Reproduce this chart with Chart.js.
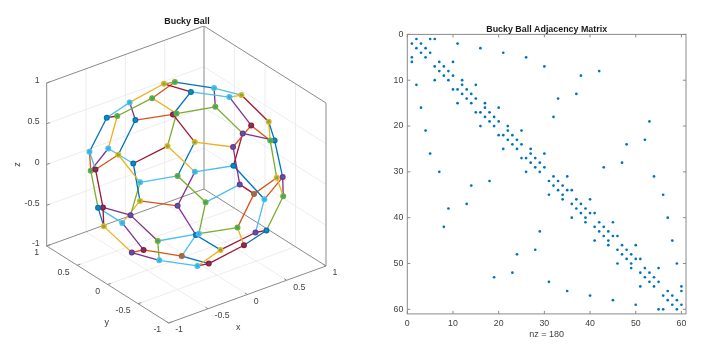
<!DOCTYPE html>
<html>
<head>
<meta charset="utf-8">
<title>Bucky Ball</title>
<script src="https://cdn.jsdelivr.net/npm/chart.js@4"></script>
<style>
    body { margin: 0; background: #fff; overflow: hidden; }
    canvas { position: absolute; top: 0; }
    #ball-chart { left: 0; }
    #spy-chart { left: 373px; }
</style>
</head>
<body>
<canvas id="ball-chart" width="374" height="361"></canvas>
<canvas id="spy-chart" width="347" height="361"></canvas>
<script>
// Data ===============================================
const ballTicks = [-1, -0.5, 0, 0.5, 1];

// Sommets de la balle
const ballX = [0.01, 0.11, 0.05, 0.36, 0.40, 0.70, 0.83, 0.68, 0.39, 0.22, 0.12, -0.28, -0.38, -0.56, -0.50, -0.57, -0.31, -0.28, -0.55, -0.32, 0.02, 0.57, -0.72, -0.83, -0.85, -0.83, -0.89, -0.93, -0.86, -0.60, -0.45, -0.06, -0.05, 0.10, 0.49, 0.62, 0.24, 0.65, -0.90, -0.67, -0.43, -0.99, -0.96, -0.95, -0.97, -0.84, -0.11, 0.15, 0.39, -0.53, -0.50, -0.79, -0.24, 0.05, -0.80, -0.74, -0.67, -0.57, -0.34, -0.25];
const ballY = [0.38, 0.33, -0.01, 0.01, -0.19, 0.00, -0.28, -0.57, -0.56, -0.64, -0.32, 0.20, 0.44, 0.41, 0.66, 0.10, -0.18, -0.20, -0.40, -0.55, -0.74, -0.64, 0.66, 0.21, 0.02, -0.20, 0.42, 0.29, -0.35, -0.63, -0.72, -0.85, -0.94, -0.98, -0.85, -0.78, -0.97, -0.75, -0.40, -0.72, -0.87, 0.09, 0.21, -0.31, -0.20, 0.27, -0.98, -0.94, -0.81, -0.84, -0.85, -0.55, -0.87, -0.88, -0.33, -0.06, -0.42, -0.66, -0.62, -0.69];
const ballZ = [0.93, 0.94, 1.00, 0.93, 0.90, 0.73, 0.49, 0.45, 0.73, 0.73, 0.94, 0.94, 0.81, 0.72, 0.56, 0.82, 0.93, 0.94, 0.73, 0.77, 0.68, 0.52, 0.22, 0.51, 0.53, 0.52, 0.16, 0.25, 0.37, 0.49, 0.53, 0.53, 0.34, 0.19, 0.19, 0.12, 0.07, -0.14, 0.18, 0.19, 0.22, -0.10, -0.17, -0.02, -0.16, -0.47, -0.15, -0.32, -0.44, -0.16, -0.15, -0.28, -0.43, -0.47, -0.49, -0.67, -0.62, -0.49, -0.71, -0.68];

// Arêtes: numéro des deux sommets et couleur
const edgeFrom = [1, 1, 1, 2, 2, 3, 3, 4, 4, 5, 5, 6, 7, 7, 8, 8, 9, 9, 10, 10, 11, 12, 12, 13, 13, 14, 14, 15, 16, 16, 17, 18, 19, 19, 20, 20, 21, 22, 23, 23, 24, 24, 25, 25, 26, 27, 28, 29, 29, 30, 31, 31, 32, 33, 33, 34, 34, 35, 36, 36, 37, 38, 39, 39, 40, 41, 42, 42, 43, 43, 44, 45, 46, 47, 47, 48, 48, 49, 50, 50, 51, 52, 53, 54, 55, 55, 56, 57, 58, 59];
const edgeTo = [13, 3, 2, 12, 4, 5, 17, 6, 11, 6, 9, 7, 8, 22, 10, 36, 21, 22, 11, 32, 18, 14, 18, 15, 16, 15, 24, 23, 17, 25, 20, 19, 26, 31, 21, 30, 33, 35, 27, 28, 26, 27, 28, 29, 39, 43, 42, 30, 44, 41, 32, 40, 37, 34, 41, 35, 47, 38, 37, 38, 48, 49, 40, 45, 50, 51, 44, 46, 45, 46, 52, 55, 56, 51, 54, 49, 53, 54, 53, 58, 52, 57, 59, 60, 56, 58, 57, 59, 60, 60];
const edgeColor = ['y', 'r', 'g', 'o', 'b', 'c', 'b', 'c', 'p', 'y', 'p', 'r', 'b', 'y', 'p', 'b', 'o', 'o', 'g', 'r', 'g', 'g', 'y', 'c', 'p', 'r', 'y', 'b', 'o', 'b', 'r', 'g', 'r', 'y', 'y', 'b', 'p', 'g', 'o', 'c', 'c', 'p', 'o', 'y', 'b', 'g', 'r', 'c', 'g', 'g', 'c', 'p', 'b', 'r', 'c', 'o', 'o', 'y', 'o', 'p', 'c', 'g', 'o', 'y', 'p', 'g', 'p', 'r', 'c', 'b', 'p', 'p', 'y', 'g', 'y', 'r', 'r', 'b', 'b', 'c', 'c', 'g', 'y', 'r', 'o', 'o', 'p', 'c', 'b', 'r'];
// Couleur visible sur chaque sommet (contour)
const nodeRing = ['y', 'g', 'b', 'c', 'c', 'y', 'y', 'b', 'r', 'p', 'g', 'g', 'c', 'g', 'b', 'b', 'r', 'g', 'y', 'y', 'p', 'g', 'c', 'c', 'y', 'b', 'g', 'r', 'c', 'g', 'c', 'b', 'p', 'o', 'y', 'p', 'c', 'g', 'y', 'p', 'g', 'r', 'b', 'p', 'c', 'y', 'g', 'p', 'b', 'b', 'c', 'g', 'y', 'r', 'r', 'p', 'c', 'o', 'c', 'r'];

const spyTicks = [0, 10, 20, 30, 40, 50, 60];
// Colonnes non nulles de chaque ligne 1 à 60
const spyCols = [
    [2, 5, 6], [1, 3, 11], [2, 4, 16], [3, 5, 21], [1, 4, 26], [1, 7, 10], [6, 8, 30], [7, 9, 42], [8, 10, 38], [6, 9, 12],
    [2, 12, 15], [10, 11, 13], [12, 14, 37], [13, 15, 33], [11, 14, 17], [3, 17, 20], [15, 16, 18], [17, 19, 32], [18, 20, 53], [16, 19, 22],
    [4, 22, 25], [20, 21, 23], [22, 24, 52], [23, 25, 48], [21, 24, 27], [5, 27, 30], [25, 26, 28], [27, 29, 47], [28, 30, 43], [7, 26, 29],
    [32, 35, 54], [18, 31, 33], [14, 32, 34], [33, 35, 36], [31, 34, 56], [34, 37, 40], [13, 36, 38], [9, 37, 39], [38, 40, 41], [36, 39, 57],
    [39, 42, 45], [8, 41, 43], [29, 42, 44], [43, 45, 46], [41, 44, 58], [44, 47, 50], [28, 46, 48], [24, 47, 49], [48, 50, 51], [46, 49, 59],
    [49, 52, 55], [23, 51, 53], [19, 52, 54], [31, 53, 55], [51, 54, 60], [35, 57, 60], [40, 56, 58], [45, 57, 59], [50, 58, 60], [55, 56, 59]
];
const spyLabel = 'nz = 180';
// ====================================================

const palette = { b: '#0072BD', o: '#D95319', y: '#EDB120', p: '#7E2F8E', g: '#77AC30', c: '#4DBEEE', r: '#A2142F' };
const nodeCenter = { b: '#1590a8', o: '#3f8f90', y: '#6cae50', p: '#2a6fb0', g: '#2ea58a', c: '#2fb3d8', r: '#4f4a7a' };
const axisColor = '#8a8a8a';
const gridColor = '#e8e8e8';
const textColor = '#404040';
const fontFamily = '"Liberation Sans", Arial, sans-serif';

// Projection 3D vers le plan de l'image
function project(x, y, z) {
    return { x: 78.65 * x - 61 * y, y: 28.5 * x + 38.5 * y + 81.5 * z };
}

function segments(list) {
    const points = [];
    list.forEach(seg => {
        points.push(project(...seg[0]), project(...seg[1]), { x: NaN, y: NaN });
    });
    return points;
}

const gridSegs = [];
ballTicks.slice(1, 4).forEach(t => {
    // sol
    gridSegs.push([[t, -1, -1], [t, 1, -1]], [[-1, t, -1], [1, t, -1]]);
    // mur y = 1
    gridSegs.push([[t, 1, -1], [t, 1, 1]], [[-1, 1, t], [1, 1, t]]);
    // mur x = 1
    gridSegs.push([[1, t, -1], [1, t, 1]], [[1, -1, t], [1, 1, t]]);
});

const boxSegs = [
    [[-1, 1, 1], [1, 1, 1]], [[1, 1, 1], [1, -1, 1]],
    [[-1, 1, -1], [-1, 1, 1]], [[1, 1, -1], [1, 1, 1]], [[1, -1, -1], [1, -1, 1]],
    [[-1, 1, -1], [1, 1, -1]], [[1, 1, -1], [1, -1, -1]],
    [[-1, 1, -1], [-1, -1, -1]], [[-1, -1, -1], [1, -1, -1]]
];
ballTicks.forEach(t => {
    boxSegs.push([[t, -1, -1], [t, -0.96, -1]], [[-1, t, -1], [-0.96, t, -1]], [[-1, 1, t], [-0.96, 1, t]]);
});

const ballDatasets = [];
// Le premier dataset est dessiné au-dessus
ballDatasets.push({
    data: ballX.map((x, i) => project(x, ballY[i], ballZ[i])),
    showLine: false,
    pointRadius: 2.3,
    pointBorderWidth: 1.4,
    pointBackgroundColor: nodeRing.map(c => nodeCenter[c]),
    pointBorderColor: nodeRing.map(c => palette[c]),
});
edgeFrom.forEach((from, i) => {
    const a = from - 1;
    const b = edgeTo[i] - 1;
    ballDatasets.push({
        data: [project(ballX[a], ballY[a], ballZ[a]), project(ballX[b], ballY[b], ballZ[b])],
        showLine: true,
        borderColor: palette[edgeColor[i]],
        borderWidth: 1.3,
        pointRadius: 0,
    });
});
ballDatasets.push({
    data: segments(boxSegs), showLine: true, spanGaps: false,
    borderColor: axisColor, borderWidth: 1, pointRadius: 0,
});
ballDatasets.push({
    data: segments(gridSegs), showLine: true, spanGaps: false,
    borderColor: gridColor, borderWidth: 0.8, pointRadius: 0,
});

// Textes des axes 3D
const ballLabels = {
    id: 'ballLabels',
    afterDraw(chart) {
        const { ctx, scales } = chart;
        const put = (point, dx, dy, text, align) => {
            ctx.textAlign = align;
            ctx.fillText(text, scales.x.getPixelForValue(point.x) + dx, scales.y.getPixelForValue(point.y) + dy);
        };
        ctx.save();
        ctx.fillStyle = textColor;
        ctx.textBaseline = 'middle';
        ctx.font = '8.75px ' + fontFamily;
        ballTicks.forEach(t => {
            const label = String(t);
            put(project(t, -1, -1), 6.5, 7, label, 'left');
            put(project(-1, t, -1), -7.5, 7, label, 'right');
            put(project(-1, 1, t), -7, -2, label, 'right');
        });
        ctx.font = '9px ' + fontFamily;
        put(project(0, -1, -1), -9, 32.8, 'x', 'center');
        put(project(-1, 0, -1), -1, 38.2, 'y', 'center');
        const zx = scales.x.getPixelForValue(project(-1, 1, 0).x) - 29;
        const zy = scales.y.getPixelForValue(project(-1, 1, 0).y);
        ctx.translate(zx, zy);
        ctx.rotate(-Math.PI / 2);
        ctx.textAlign = 'center';
        ctx.fillText('z', 0, 0);
        ctx.restore();
    }
};

new Chart(document.getElementById('ball-chart'), {
    type: 'scatter',
    data: { datasets: ballDatasets },
    options: {
        responsive: false,
        animation: false,
        layout: { padding: 0, autoPadding: false },
        scales: {
            x: { display: false, min: -186.35, max: 187.65 },
            y: { display: false, min: -186.5, max: 148.5 },
        },
        plugins: {
            legend: { display: false },
            tooltip: { enabled: false },
            title: {
                display: true,
                text: 'Bucky Ball',
                color: '#1a1a1a',
                font: { family: fontFamily, size: 8.9, weight: 'bold', lineHeight: 1 },
                padding: { top: 17.1, bottom: 0 },
            },
        },
    },
    plugins: [ballLabels],
});

// Cadre et petits ticks vers l'intérieur, comme sur MATLAB
const spyFrame = {
    id: 'spyFrame',
    afterDatasetsDraw(chart) {
        const { ctx, chartArea, scales } = chart;
        ctx.save();
        ctx.strokeStyle = axisColor;
        ctx.lineWidth = 1;
        ctx.strokeRect(chartArea.left, chartArea.top, chartArea.width, chartArea.height);
        ctx.beginPath();
        spyTicks.forEach(t => {
            const px = scales.x.getPixelForValue(t);
            const py = scales.y.getPixelForValue(t);
            ctx.moveTo(px, chartArea.top);
            ctx.lineTo(px, chartArea.top + 3);
            ctx.moveTo(px, chartArea.bottom);
            ctx.lineTo(px, chartArea.bottom - 3);
            ctx.moveTo(chartArea.left, py);
            ctx.lineTo(chartArea.left + 3, py);
            ctx.moveTo(chartArea.right, py);
            ctx.lineTo(chartArea.right - 3, py);
        });
        ctx.stroke();
        ctx.restore();
    }
};

const spyPoints = [];
spyCols.forEach((cols, row) => {
    cols.forEach(col => spyPoints.push({ x: col, y: row + 1 }));
});

const spyTickOptions = {
    color: textColor,
    font: { family: fontFamily, size: 8.75 },
    stepSize: 10,
    includeBounds: false,
    maxRotation: 0,
    padding: 4,
};

new Chart(document.getElementById('spy-chart'), {
    type: 'scatter',
    data: {
        datasets: [{
            data: spyPoints,
            pointRadius: 1.35,
            pointBorderWidth: 0,
            pointBackgroundColor: '#0072BD',
        }]
    },
    options: {
        responsive: false,
        animation: false,
        layout: { padding: { top: 0, right: 34, bottom: 21, left: 0 }, autoPadding: false },
        scales: {
            x: {
                position: 'bottom',
                min: 0,
                max: 61,
                grid: { display: false, drawTicks: false },
                border: { display: false },
                ticks: spyTickOptions,
                title: {
                    display: true,
                    text: spyLabel,
                    color: textColor,
                    font: { family: fontFamily, size: 9 },
                    padding: { top: 2, bottom: 0 },
                },
                afterFit(scale) { scale.height = 26.1; },
            },
            y: {
                reverse: true,
                min: 0,
                max: 61,
                grid: { display: false, drawTicks: false },
                border: { display: false },
                ticks: spyTickOptions,
                afterFit(scale) { scale.width = 34.3; },
            },
        },
        plugins: {
            legend: { display: false },
            tooltip: { enabled: false },
            title: {
                display: true,
                fullSize: false,
                text: 'Bucky Ball Adjacency Matrix',
                color: '#1a1a1a',
                font: { family: fontFamily, size: 8.9, weight: 'bold', lineHeight: 1 },
                padding: { top: 25.5, bottom: 0 },
            },
        },
    },
    plugins: [spyFrame],
});
</script>
</body>
</html>
